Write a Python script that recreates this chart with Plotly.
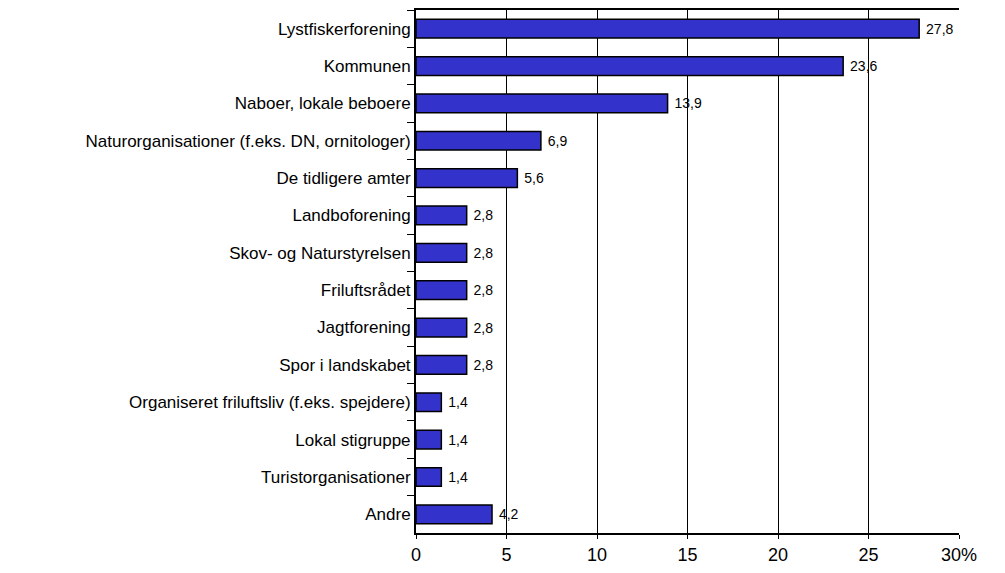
import plotly.graph_objects as go

# answers, top to bottom
categories = ["Lystfiskerforening", "Kommunen", "Naboer, lokale beboere",
              "Naturorganisationer (f.eks. DN, ornitologer)", "De tidligere amter",
              "Landboforening", "Skov- og Naturstyrelsen", "Friluftsrådet",
              "Jagtforening", "Spor i landskabet",
              "Organiseret friluftsliv (f.eks. spejdere)", "Lokal stigruppe",
              "Turistorganisationer", "Andre"]
percent = [27.8, 23.6, 13.9, 6.9, 5.6, 2.8, 2.8, 2.8, 2.8, 2.8, 1.4, 1.4, 1.4, 4.2]
tick_vals = [0, 5, 10, 15, 20, 25, 30]
tick_text = ["0", "5", "10", "15", "20", "25", "30%"]

# danish decimal comma, small space before the number
labels = [" " + f"{v:.1f}".replace(".", ",") for v in percent]

fig = go.Figure(go.Bar(
    y=categories, x=percent, orientation="h",
    marker=dict(color="#3333CC", line=dict(color="black", width=1.5)),
    text=labels, textposition="outside", cliponaxis=False,
    textfont=dict(family="Liberation Sans, Arial", size=14, color="black"),
))

# page body adds 8px, so the figure is a bit smaller than the window
fig.update_layout(
    width=997, height=565,
    margin=dict(l=408, r=46, t=0, b=40),
    paper_bgcolor="white", plot_bgcolor="white",
    bargap=0.5, showlegend=False,
    font=dict(family="Liberation Sans, Arial", color="black"),
)
fig.update_xaxes(
    range=[0, 30], tickvals=tick_vals, ticktext=tick_text,
    showgrid=True, gridcolor="black", gridwidth=1,
    showline=True, linecolor="black", linewidth=2, mirror=True,
    ticks="outside", ticklen=4, tickcolor="black",
    tickfont=dict(size=18), zeroline=False,
)
fig.update_yaxes(
    autorange="reversed", tickson="boundaries",
    showline=True, linecolor="black", linewidth=2,
    ticks="outside", ticklen=7, tickcolor="black",
    tickfont=dict(size=17), showgrid=False,
)

fig.write_html("out.html")
